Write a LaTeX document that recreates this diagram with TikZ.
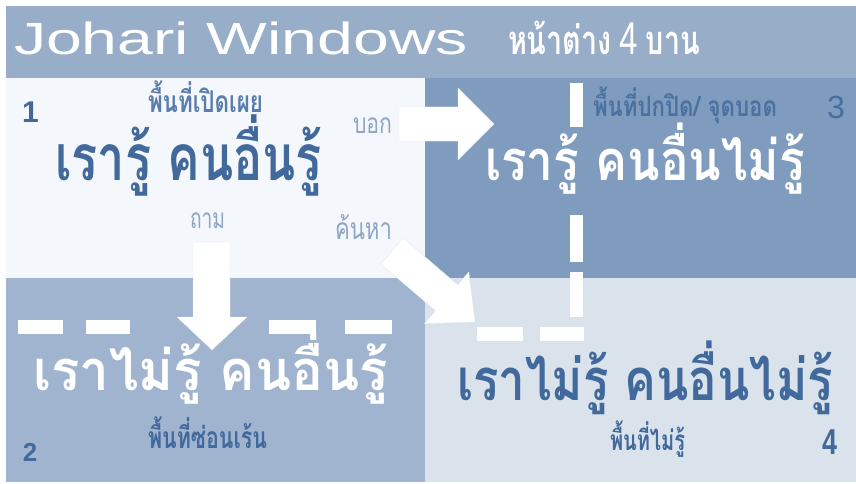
\documentclass[tikz,border=0pt]{standalone}
\usepackage{fontspec}
\usepackage{graphicx}
\setmainfont{Liberation Sans}
\newfontfamily\thai[Script=Thai]{Loma}
\newcommand\fitw[2]{\resizebox{#1pt}{\height}{#2}}
\newcommand\fs[1]{\fontsize{#1}{#1}\selectfont}
\definecolor{bandc}{HTML}{98AEC8}
\definecolor{qone}{HTML}{F4F7FB}
\definecolor{qtwo}{HTML}{A0B4CF}
\definecolor{qthree}{HTML}{7F9CBE}
\definecolor{qfour}{HTML}{DAE2EC}
\definecolor{darkb}{HTML}{41699B}
\definecolor{midb}{HTML}{5A7DAB}
\definecolor{lightb}{HTML}{8EA5C5}
\tikzset{
  lbl/.style={anchor=base west, inner sep=0pt, outer sep=0pt},
  dashbox/.style={fill=white, draw=none},
  blockarrow/.style={fill=white, draw=qfour!70!white, line width=0.4pt},
}
\begin{document}
\begin{tikzpicture}[x=1pt,y=-1pt]
\useasboundingbox (0,0) rectangle (856,484);
\fill[white] (0,0) rectangle (856,484);
% title band and quadrants
\fill[bandc] (6,6) rectangle (856,78);
\fill[qone] (6,78) rectangle (425,278);
\fill[qthree] (425,78) rectangle (856,278);
\fill[qtwo] (6,278) rectangle (425,482);
\fill[qfour] (425,278) rectangle (856,482);
% dashed division lines (white bars)
\fill[dashbox] (570,83) rectangle (583,127);
\fill[dashbox] (570,215) rectangle (583,262);
\fill[dashbox] (570,272) rectangle (583,317);
\fill[dashbox] (477,327) rectangle (523,341);
\fill[dashbox] (540,327) rectangle (584,341);
\fill[dashbox] (18,320) rectangle (63,334);
\fill[dashbox] (86,320) rectangle (130,334);
\fill[dashbox] (269,320) rectangle (316,334);
\fill[dashbox] (345,320) rectangle (392,334);
% block arrows
\filldraw[blockarrow] (399,107) -- (458,107) -- (458,88) -- (494,124) -- (458,160) -- (458,141) -- (399,141) -- cycle;
\filldraw[blockarrow] (193,242) -- (230,242) -- (230,317) -- (247,317) -- (212,350) -- (177,317) -- (193,317) -- cycle;
\filldraw[blockarrow] (381,264) -- (403,238) -- (457.7,284.9) -- (468.8,272) -- (475,322) -- (424.6,323.6) -- (435.6,310.7) -- cycle;
% title
\node[lbl, text=white] (title) at (14,55) {\fitw{454}{\fs{45}Johari Windows}};
\node[lbl, text=white] (subtitle) at (508,55) {\fitw{192}{\fs{40}{\thai\bfseries หน้าต่าง} {\fs{46}4} {\thai\bfseries บาน}}};
% big texts
\node[lbl, text=darkb] (t1) at (55,180) {\fitw{267}{\fs{64}\thai\bfseries เรารู้ คนอื่นรู้}};
\node[lbl, text=white] (t3) at (485,180) {\fitw{320}{\fs{56}\thai\bfseries เรารู้ คนอื่นไม่รู้}};
\node[lbl, text=white] (t2) at (33,390) {\fitw{355}{\fs{56}\thai\bfseries เราไม่รู้ คนอื่นรู้}};
\node[lbl, text=darkb] (t4) at (457,400) {\fitw{376}{\fs{58}\thai\bfseries เราไม่รู้ คนอื่นไม่รู้}};
% small labels
\node[lbl, text=midb] (a1) at (148,113) {\fitw{115}{\fs{30}\thai\bfseries พื้นที่เปิดเผย}};
\node[lbl, text=lightb] (bok) at (353,133) {\fitw{39}{\fs{28}\thai บอก}};
\node[lbl, text=lightb] (tham) at (190,228) {\fitw{35}{\fs{28}\thai ถาม}};
\node[lbl, text=lightb] (khon) at (335,239) {\fitw{57}{\fs{30}\thai ค้นหา}};
\node[lbl, text=darkb!85!qthree] (a3) at (593,117) {\fitw{184}{\fs{28}\thai\bfseries พื้นที่ปกปิด/ จุดบอด}};
\node[lbl, text=darkb] (a2) at (148,448) {\fitw{119}{\fs{30}\thai\bfseries พื้นที่ซ่อนเร้น}};
\node[lbl, text=darkb] (a4) at (610,450) {\fitw{75}{\fs{28}\thai\bfseries พื้นที่ไม่รู้}};
% numbers
\node[lbl, text=darkb] (n1) at (22,123) {\fs{30}\bfseries 1};
\node[lbl, text=darkb] (n2) at (23,461) {\fs{26}\bfseries 2};
\node[lbl, text=darkb!90!qthree] (n3) at (827,118) {\fs{32}3};
\node[lbl, text=darkb] (n4) at (822,454) {\fitw{15}{\fs{36}\bfseries 4}};
\end{tikzpicture}
\end{document}
